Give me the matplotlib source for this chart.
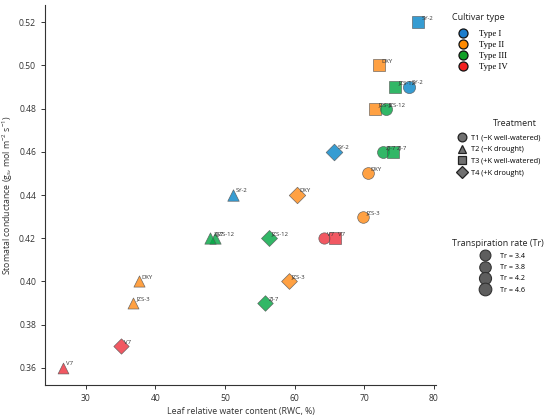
import matplotlib
matplotlib.use("Agg")
import matplotlib.pyplot as plt
from matplotlib.lines import Line2D

plt.rcParams['font.family'] = ['Open Sans', 'DejaVu Sans']
plt.rcParams['mathtext.fontset'] = 'custom'
plt.rcParams['mathtext.rm'] = 'Open Sans'
plt.rcParams['mathtext.it'] = 'Open Sans:italic'
plt.rcParams['mathtext.default'] = 'regular'

# ---------------- data ----------------
cultivar = ['SY-2'] * 4 + ['DXY'] * 4 + ['JZS-3'] * 4 + ['JZS-12'] * 4 + ['ZJ-7'] * 4 + ['V7'] * 4
treatment = ['T1', 'T2', 'T3', 'T4'] * 6
rwc = [76.4, 51.1, 77.8, 65.7,
       70.5, 37.6, 72.1, 60.3,
       69.9, 36.8, 71.6, 59.2,
       73.1, 48.5, 74.5, 56.3,
       72.7, 47.9, 74.2, 55.8,
       64.2, 26.7, 65.8, 35.1]
gs = [0.49, 0.44, 0.52, 0.46,
      0.45, 0.40, 0.50, 0.44,
      0.43, 0.39, 0.48, 0.40,
      0.48, 0.42, 0.49, 0.42,
      0.46, 0.42, 0.46, 0.39,
      0.42, 0.36, 0.42, 0.37]
tr = [4.3, 3.8, 4.6, 4.0,
      4.0, 3.6, 4.4, 3.9,
      3.9, 3.5, 4.3, 3.6,
      4.2, 3.7, 4.4, 3.7,
      4.1, 3.7, 4.1, 3.5,
      3.7, 3.4, 3.8, 3.4]

cultivar_type = {'SY-2': 'Type I', 'DXY': 'Type II', 'JZS-3': 'Type II',
                 'JZS-12': 'Type III', 'ZJ-7': 'Type III', 'V7': 'Type IV'}
type_names = ['Type I', 'Type II', 'Type III', 'Type IV']
type_colors = ['#0a86c8', '#ff8c1a', '#05a845', '#ee3340']
legend_colors = ['#1a7ccc', '#ff8a00', '#12a028', '#f22020']
treat_names = ['T1', 'T2', 'T3', 'T4']
treat_labels = ['T1 (\u2212K well-watered)', 'T2 (\u2212K drought)',
                'T3 (+K well-watered)', 'T4 (+K drought)']
treat_markers = ['o', '^', 's', 'D']
tr_levels = [3.4, 3.8, 4.2, 4.6]

SIZE_SCALE = 18.0

# ---------------- figure ----------------
fig = plt.figure(figsize=(5.5, 4.19), dpi=100)
ax = fig.add_axes([0.082, 0.081, 0.711, 0.907])

col_of = dict(zip(type_names, type_colors))
mk_of = dict(zip(treat_names, treat_markers))

for c, t, x, y, r in zip(cultivar, treatment, rwc, gs, tr):
    ax.scatter([x], [y], s=r * SIZE_SCALE, marker=mk_of[t],
               color=col_of[cultivar_type[c]], alpha=0.82,
               edgecolor='#555555', linewidth=0.5, zorder=3)
    ax.annotate(c, (x, y), xytext=(2.2, 1.2), textcoords='offset points',
                fontsize=4.3, color='#333333', ha='left', va='bottom', zorder=4)

ax.spines['top'].set_visible(False)
ax.spines['right'].set_visible(False)
for sp in ('left', 'bottom'):
    ax.spines[sp].set_color('#333333')
    ax.spines[sp].set_linewidth(0.8)
ax.tick_params(axis='both', labelsize=6.2, colors='#333333', length=3, width=0.7)
ax.set_xticks([30, 40, 50, 60, 70, 80])
ax.set_yticks([0.36, 0.38, 0.40, 0.42, 0.44, 0.46, 0.48, 0.50, 0.52])
ax.set_xlabel('Leaf relative water content (RWC, %)', fontsize=6.3, color='#333333', labelpad=3)
ax.set_ylabel('Stomatal conductance (g$_{s}$, mol m$^{-2}$ s$^{-1}$)', fontsize=6.3,
              color='#333333', labelpad=3)

# ---------------- legends ----------------
W, H = 550.0, 419.0

def fpos(px, py):
    return (px / W, 1 - py / H)

# Cultivar type
h1 = [Line2D([], [], marker='o', linestyle='none', markersize=6.5,
             markerfacecolor=col, markeredgecolor='#111111', markeredgewidth=0.9)
      for col in legend_colors]
leg1 = fig.legend(h1, type_names, loc='upper left', bbox_to_anchor=fpos(452, 25.5),
                  frameon=False, borderpad=0, handlelength=1.45,
                  handletextpad=1.15, labelspacing=0.32,
                  prop={'family': 'Liberation Serif', 'size': 6.3})
fig.text(452 / W, 1 - 17 / H, 'Cultivar type', fontsize=6.5, color='#222222',
         ha='left', va='center')

# Treatment
h2 = [Line2D([], [], marker=m, linestyle='none', markersize=6.3,
             markerfacecolor='#707070', markeredgecolor='#222222', markeredgewidth=0.9)
      for m in treat_markers]
leg2 = fig.legend(h2, treat_labels, loc='upper left', bbox_to_anchor=fpos(453, 131),
                  frameon=False, borderpad=0, fontsize=5.3, handlelength=1.4,
                  handletextpad=0.5, labelspacing=0.6)
fig.text(515 / W, 1 - 123 / H, 'Treatment', fontsize=6.5, color='#222222',
         ha='center', va='center')

# Transpiration rate
h3 = [Line2D([], [], marker='o', linestyle='none', markersize=(v * SIZE_SCALE) ** 0.5,
             markerfacecolor='#5e5e5e', markeredgecolor='#333333', markeredgewidth=0.8)
      for v in tr_levels]
leg3 = fig.legend(h3, ['Tr = %.1f' % v for v in tr_levels], loc='upper left',
                  bbox_to_anchor=fpos(476, 249), frameon=False, borderpad=0,
                  fontsize=5.2, handlelength=1.6, handletextpad=1.27, labelspacing=0.6)
fig.text(452 / W, 1 - 243 / H, 'Transpiration rate (Tr)', fontsize=6.5, color='#222222',
         ha='left', va='center')

fig.savefig('out.png', dpi=100)
